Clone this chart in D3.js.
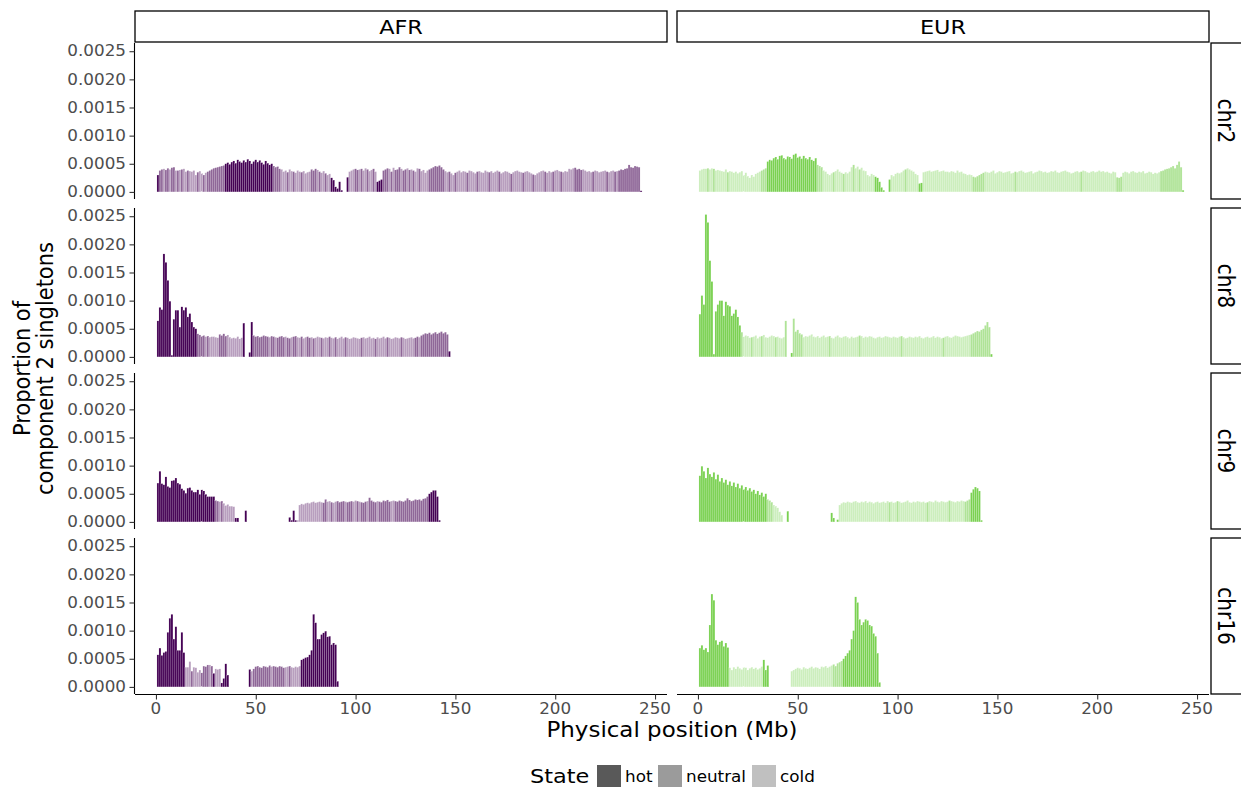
<!DOCTYPE html>
<html><head><meta charset="utf-8">
<script src="https://cdn.jsdelivr.net/npm/d3@7"></script>
<style>body{margin:0;background:#fff} text{font-family:"DejaVu Sans",sans-serif}</style>
</head><body>
<svg id="c" width="1241" height="789"></svg>
<script>
// ---------------- DATA ----------------
const populations = ["AFR", "EUR"];
const chromosomes = ["chr2", "chr8", "chr9", "chr16"];
const stateLevels = ["hot", "neutral", "cold"];
const stateCodes = {h: "hot", n: "neutral", c: "cold"};
const popColors = ["#440154", "#7AD151"];
const stateAlpha = [1, 0.6, 0.38];
const yTicks = [0, 0.0005, 0.001, 0.0015, 0.002, 0.0025];
const xTicks = [0, 50, 100, 150, 200, 250];
const xTitle = "Physical position (Mb)";
const yTitle = ["Proportion of", "component 2 singletons"];
const legendTitle = "State";

// Proportions in units of 1e-5, one value per 1-Mb bin (bin k centred at k Mb, k = 1..n); null = no bar
// state strings: h = hot, n = neutral, c = cold, . = none
const afr_chr2 = [30,
 38,40,41,39,42,40,43,44,38, 38,39,40,41,36,38,37, 36,38,30,35,37,33,30,34,
 36,38,40,42,43,44,45,46,47,
 50,52,49,53,55,51,57,54,52,56,53,58,55,50,54,57,53,56,52,49,55,51,48,50,
 46,44,45,41,40, 36,38,35,40,37,36,34,38,36,35,37,33,35,36,
 40,38,41,39,36,34,37,33,30,32, 25,21,9,6,18,3, null,null, 26,
 36,38,40,41,39,40,41,38,42,40,37,39,41,36, 18,20,22,
 38,40,42,41,36,43,39,40,44,41,38,40,42,39, 40,38,36,42,41,37,39,34,38,40,
 42,44,46,45,47,44,40,
 37,35,36,33,30,34,36,38,35,37, 36,34,38,37,35,33,36,37,35,34, 38,36,35,37,34,36,38,36,33,35,
 37,36,34,32,35,37,38,36,35,34, 36,37,35,33,31,30,33,35,37,38, 36,34,37,35,36,38,39,37,36,35, 37,36,
 41,40,42,43,40,41,39,40,
 38,36,37,35,36,38,37,35,36,37,38,36,35,37,38,36,37,
 38,40,39,41,42,48,44,43,46,45,44, 2];
const afr_chr2_state = "h" + "nncnncnnc" + "ncnccnc" + "cccnccnc" + "nnnnnnnnn" + "hhhhhhhhhhhhhhhhhhhhhhhh" +
 "nnnnc" + "ccnccncccncccc" + "nnncnccncc" + "hhhhhh" + ".." + "h" + "cccnncnccnccnc" + "hhh" +
 "nnncncnnncnncn" + "cnccnccccn" + "nnnnnnn" +
 "ccnccncccc" + "cnccccnccc" + "ccnccccncc" + "cccncccccn" + "ccccnccccc" + "ncccncccnc" + "cc" +
 "cccnnnnc" + "ccccnccccccncccnc" + "nnnnnnnnnnn" + "h";

const eur_chr2 = [38,40,41,41,42,40,42,41,38,39,38,37,36,40,35,37,36,
 34,36,33,35,37,30,34,28,25,30,27,32,34,36,38,40,42,
 54,57,56,60,62,58,64,65,60,58,63,62,59,66,68,61,63,59,64,60,58,62,57,55,60,
 48,46,44, 38,36,32,30,33,35,37,40,36,34,32,35,33,36, 44,48,42,45,40,43,38,37,
 30,28,32,30, 27,25, 18,8,3, null,null, 22,
 30,28,32,34,33,35,38,40,42,40,38,36,32,30, 15,16,
 35,36,37,38,36,37,38,39,36,37,38,36, 36,35,37,36,34,38,35,36,33,32,30,31,30,
 27,26,28,30,32,34,
 36,35,34,36,38,33,35,37,36,34, 35,36,37,33,34,36,35,37,38,36, 34,35,36,37,33,35,36,38,37,35,
 36,34,35,37,36,38,35,34,36,37, 38,36,35,33,34,36,37,35,36,38, 37,35,34,36,37,35,36,38,36,37, 35,36,34,33,36,35,
 26,25,27, 34,36,35,33,36,37,35,34,36,35,37,33,34,36,35,32,34,33,35,
 37,38,40,41,42,44,46,42,48,54,44, 3];
const eur_chr2_state = "ccccnccnccccccncc" + "ccccccccccccccnnn" + "hhhhhhhhhhhhhhhhhhhhhhhhh" + "nnn" +
 "cccccnccccnccc" + "cnccnccc" + "cccc" + "hh" + "hhh" + ".." + "h" + "cccccccncccccc" + "hh" +
 "cccccccccccc" + "ccccccccccccc" + "nnnnnn" +
 "cccccccccc" + "cccccncccc" + "cccccccccc" + "cccccccccc" + "ccccccccnc" + "cccccccccc" + "cccccc" +
 "nnn" + "ccccccccccccccccccc" + "nnnnnnnnnnn" + "h";

const afr_chr8 = [64,88,84,183,168,136,99,3,67,83,83,53,89,83,88,71,77,62,53,50,
 41,39,37,38,36,37,35,36,36,35,34,40,38,41,37,39,35,33, 34,33,36,32,34,
 60, null,null, 8, 62,
 38,36,37,35,36,38,37,36,35,37, 36,35,34,36,37,35,36,34,33,35, 36,37,35,34,36,33,35,36,34,35, 33,34,36,35,34,33,35,34,36,
 34,33,35,32,34,36,33,35,34,32, 33,35,34,33,32,34,35,33,34,36, 33,34,32,35,33,34,36,33,35,34,
 32,33,35,34,33,35,34,32,33,34, 35,33,34,36,35,
 38,40,42,41,43,40,42,44,41,43,45,42,44,40, 10];
const afr_chr8_state = "hhhhhhhhhhhhhhhhhhhh" + "nnnncncccccnnnnccc" + "ccccc" + "h" + ".." + "h" + "h" +
 "nnnnnnnncn" + "ncnnnncnnc" + "nnccnccnnc" + "ncccncccn" +
 "ccnccccncc" + "cccccncccc" + "ccncccccnc" + "cccccncccc" + "ccnnc" +
 "nnnnnnnnnnnnnn" + "h";

const eur_chr8 = [76,109,93,253,239,171,134,5,81,93,100,100,73,98,92,90,73,77,84,71,56,
 44, 36,38,37,34,35,36,38,33,36,37,39,35,34,36,38,37,35,36,34,33,35,
 64, null,null, 7, 68,
 45,48,42,40,35,37,36,38,40,36, 35,37,34,36,38,35,36,37,34,33, 36,38,35,34,36,37,35,33,36,34,
 35,36,38,37,34,36,35,37,36,34, 33,35,36,34,35,37,36,35,34,36, 35,34,36,37,35,33,34,36,35,34,
 36,35,37,34,33,35,36,34,35,37, 34,36,35,33,34,36,37,35,34,36, 38,37,36,35,36,37,38,39,
 40,42,44,46,45,48,50,56,62,53, 5];
const eur_chr8_state = "hhhhhhhhhhhhhhhhhhhhh" + "n" + "ccccnccccnccccccncccc" + "n" + ".." + "h" + "n" +
 "nnnncccccc" + "cccccccncc" + "cccccccccc" + "ccnccccccc" + "cccccccccc" + "cccncccccc" + "cccccccccc" + "ccccnccccc" + "cccccccc" +
 "nnnnnnnnnn" + "h";

const afr_chr9 = [69,90,68,66,80,63,61,73,74,78,69,67,59,56,51,60,61,56,53,53,57,49,57,55,49,45,45,45,45,
 38,37,36,37,33,29,31,28,28,27, 7,7, null,null,null, 20,
 null,null,null,null,null,null,null,null,null,null,null,null,null,null,null,null,null,null,null,null,null,
 8,3,20,3,3,
 30,32,31,33,34,33,35,36,34,35, 36,35,34,40,36,37,35,34,36,37, 35,36,37,36,35,36,37,36,38,37,
 36,35,34,36,37,43,38,36,35,37, 36,35,38,37,39,36,37,38,37,36, 38,37,36,38,42,39,37,38,40,39, 40,38,41,42,45,
 50,53,56,56,45, 3];
const afr_chr9_state = "hhhhhhhhhhhhhhhhhhhhhhhhhhhhh" + "nncncccccc" + "hh" + "..." + "h" + "....................." +
 "hhhhc" +
 "cccccccccc" + "ccnnccnccn" + "nnncnnnccn" + "cnnncnnnnc" + "nnnnnnccnn" + "nnnnnnnnnn" + "nnnnn" +
 "hhhhh" + "h";

const eur_chr9 = [82,99,90,78,96,85,80,88,76,84,72,78,70,75,66,72,64,70,62,68,60,65,58,62,56,60,54,57,50,55,48,52,45,50,
 40,38,35,30,28,25, 18,12,null,null, 19,
 null,null,null,null,null,null,null,null,null,null,null,null,null,null,null,null,null,null,null,null,null,
 16,7,null,4,30,
 33,35,34,36,35,34,36,37,35,34, 36,35,37,34,36,35,33,35,36,34, 35,36,34,37,35,36,34,35,37,36,
 34,35,36,38,35,34,36,35,37,36, 35,36,34,35,37,36,35,38,36,35, 37,36,35,36,38,37,36,35,37,36, 38,37,36,38,40,
 52,58,62,60,55, 3];
const eur_chr9_state = "hhhhhhhhhhhhhhhhhhhhhhhhhhhhhhhhhh" + "nnnccc" + "cc.." + "h" + "....................." +
 "hh.hc" +
 "cccccccccc" + "cccccccccc" + "ccccncccnc" + "cccccccccc" + "cccncccccc" + "ccccnccccc" + "ccnnn" +
 "hhhhh" + "h";

const afr_chr16 = [57,69,56,61,63,97,122,129,85,107,65,65,97,61,
 35,35,45,28,35,34,26,30,25,37,36,39,39,37,24,32,31,32,
 7,15,41,21,
 null,null,null,null,null,null,null,null,null,null,
 31,
 28,32,36,37,35,34,37,36,35,38,36,37,36,35,37,36,34,35,36,37,35,34,36,35,37,
 48,50,52,53,57,65,129,114,85,85,93,96,99,89,90,75,78,75,10];
const afr_chr16_state = "hhhhhhhhhhhhhh" + "cccnccccnnnncnhccc" + "hhhh" + ".........." + "h" +
 "cnnnnnnnnncnnnnnnccnccccc" + "hhhhhhhhhhhhhhhhhhh";

const eur_chr16 = [69,74,66,69,62,110,165,154,83,75,80,82,72,78,70,
 34,30,35,32,36,33,31,35,34,30,33,35,32,34,31,33,36,
 48,30,38,
 null,null,null,null,null,null,null,null,null,null,null,
 28,30,32,34,33,31,35,33,32,34,36,33,35,34,32,36,35,37,34,36,38,40,37,42,44,46,
 50,55,60,65,85,100,160,150,120,110,115,120,118,110,108,95,90,60, 8];
const eur_chr16_state = "hhhhhhhhhhhhhhh" + "ccccccccccccccccc" + "hhh" + "..........." +
 "cccccccccccccccccccccnnnnn" + "hhhhhhhhhhhhhhhhhh" + "h";

const seriesTable = {
  AFR: {chr2: [afr_chr2, afr_chr2_state], chr8: [afr_chr8, afr_chr8_state], chr9: [afr_chr9, afr_chr9_state], chr16: [afr_chr16, afr_chr16_state]},
  EUR: {chr2: [eur_chr2, eur_chr2_state], chr8: [eur_chr8, eur_chr8_state], chr9: [eur_chr9, eur_chr9_state], chr16: [eur_chr16, eur_chr16_state]}
};

// ---------------- LAYOUT ----------------
const SX = 1.12;   // horizontal stretch of glyphs seen in the reference
const colX = [135, 677], colW = 532;
const rowY = [43, 208, 373, 538], rowH = 156;
const stripTop = 11, stripH = 31;
const rStripX = 1211, rStripW = 36;
const tickCol = "#333333", labCol = "#4d4d4d";

const svg = d3.select("#c");
const x = d3.scaleLinear().domain([-10.5, 256]).range([0, colW]);
const y = d3.scaleLinear().domain([-0.000126, 0.002646]).range([rowH, 0]);
const stateIndex = d3.scaleOrdinal().domain(stateLevels).range([0, 1, 2]);

function txt(g, px, py, s, size, opt = {}) {
  const t = g.append("text")
    .attr("transform", `translate(${px},${py}) scale(${SX},1)` + (opt.rot ? ` rotate(${opt.rot})` : ""))
    .attr("font-size", size)
    .attr("fill", opt.fill || "#000")
    .attr("text-anchor", opt.anchor || "middle")
    .text(s);
  if (opt.db) t.attr("dominant-baseline", opt.db);
  return t;
}

populations.forEach((pop, ci) => {
  svg.append("rect").attr("x", colX[ci]).attr("y", stripTop).attr("width", colW).attr("height", stripH)
    .attr("fill", "#fff").attr("stroke", "#000").attr("stroke-width", 1.3);
  txt(svg, colX[ci] + colW / 2, stripTop + stripH / 2, pop, 20, {db: "central"});

  chromosomes.forEach((chr, ri) => {
    const g = svg.append("g").attr("transform", `translate(${colX[ci]},${rowY[ri]})`);
    const [vals, states] = seriesTable[pop][chr];
    const data = vals.map((v, i) => ({pos: i + 1, v: v == null ? null : v * 1e-5, s: stateCodes[states[i]] || "cold"}))
      .filter(d => d.v != null);
    g.selectAll("rect.bar").data(data).join("rect").attr("class", "bar")
      .attr("x", d => x(d.pos - 0.5))
      .attr("width", d => x(d.pos + 0.5) - x(d.pos - 0.5))
      .attr("y", d => y(d.v))
      .attr("height", d => y(0) - y(d.v))
      .attr("fill", popColors[ci])
      .attr("fill-opacity", d => stateAlpha[stateIndex(d.s)])
      .attr("stroke", "#ffffff").attr("stroke-width", 0.25).attr("stroke-opacity", 0.6);

    if (ci === 0) {
      const ax = d3.axisLeft(y).tickValues(yTicks).tickSize(5).tickPadding(3).tickFormat(d3.format(".4f"));
      const ag = g.append("g").attr("transform", "translate(-0.5,0)").call(ax);
      ag.select(".domain").attr("d", `M0,0V${rowH}`).attr("stroke", "#000").attr("stroke-width", 1.1);
      ag.selectAll(".tick line").attr("stroke", tickCol).attr("stroke-width", 1.1);
      ag.selectAll(".tick text").remove();
      yTicks.forEach(t => txt(g, -9, y(t), d3.format(".4f")(t), 15, {anchor: "end", db: "central", fill: labCol}));
    }
    if (ri === chromosomes.length - 1) {
      const ax = d3.axisBottom(x).tickValues(xTicks).tickSize(5).tickFormat("");
      const ag = g.append("g").attr("transform", `translate(0,${rowH + 0.5})`).call(ax);
      ag.select(".domain").attr("d", `M0,0H${colW}`).attr("stroke", "#000").attr("stroke-width", 1.1);
      ag.selectAll(".tick line").attr("stroke", tickCol).attr("stroke-width", 1.1);
      xTicks.forEach(t => txt(g, x(t), rowH + 15, String(t), 15, {db: "central", fill: labCol}));
    }
    if (ci === populations.length - 1) {
      svg.append("rect").attr("x", rStripX).attr("y", rowY[ri]).attr("width", rStripW).attr("height", rowH)
        .attr("fill", "#fff").attr("stroke", "#000").attr("stroke-width", 1.3);
      txt(svg, rStripX + 15, rowY[ri] + rowH / 2, chr, 20, {rot: 90, db: "central"});
    }
  });
});

txt(svg, (colX[0] + colX[1] + colW) / 2, 737, xTitle, 20.5, {});
txt(svg, 22, (rowY[0] + rowY[3] + rowH) / 2, yTitle[0], 21, {rot: -90, db: "central"});
txt(svg, 45, (rowY[0] + rowY[3] + rowH) / 2, yTitle[1], 21, {rot: -90, db: "central"});

txt(svg, 530, 783, legendTitle, 20, {anchor: "start"});
const legX = [597, 658, 752], labX = [625, 686, 780];
stateLevels.forEach((s, i) => {
  svg.append("rect").attr("x", legX[i]).attr("y", 765).attr("width", 24).attr("height", 22)
    .attr("fill", "#595959").attr("fill-opacity", stateAlpha[i]);
  txt(svg, labX[i], 782, s, 15, {anchor: "start"});
});
</script>
</body></html>
